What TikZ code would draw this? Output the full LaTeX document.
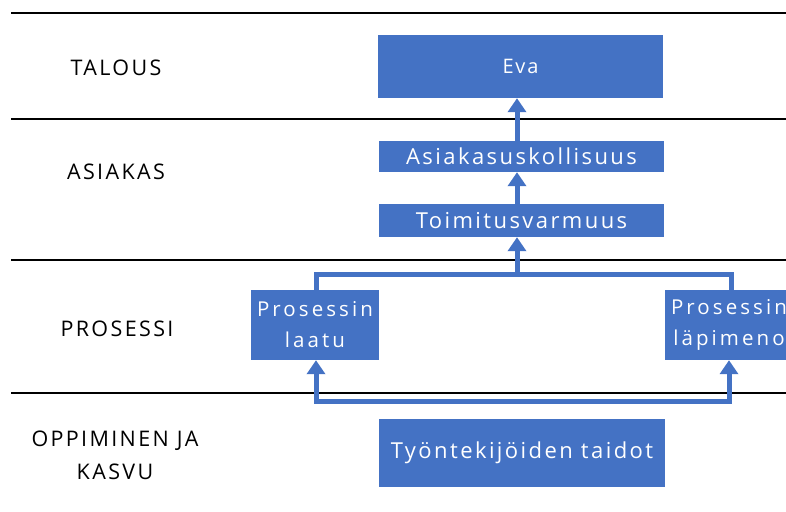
\documentclass[tikz,border=0pt]{standalone}
\usepackage{fontspec}
\setmainfont{Open Sans}[LetterSpace=11]
\usetikzlibrary{arrows.meta}
\definecolor{boxblue}{HTML}{4472C4}
\begin{document}
\begin{tikzpicture}[x=1pt,y=-1pt,
  band/.style={line width=2.4pt, black},
  blk/.style={fill=boxblue, draw=none, text=white, inner sep=0pt, align=center,
    font=\fontsize{22}{31}\selectfont},
  lvl/.style={text=black, inner sep=0pt, align=center,
    font=\fontsize{21.5}{33}\selectfont},
  wire/.style={draw=boxblue, line width=5pt},
  link/.style={wire, -{Triangle[width=18pt,length=14pt]}},
  dlink/.style={wire, {Triangle[width=18pt,length=14pt]}-{Triangle[width=18pt,length=14pt]}}]
\useasboundingbox (0,0) rectangle (786,511);
\clip (0,0) rectangle (786,511);

% band separators
\foreach \yy in {13,119,260,393}
  \draw[band] (11,\yy) -- (786,\yy);

% perspective labels
\node[lvl] (talous) at (116,68) {TALOUS};
\node[lvl] (asiakas) at (116,172) {ASIAKAS};
\node[lvl] (prosessi) at (117,329) {PROSESSI};
\node[lvl] (oppiminen) at (115,455) {OPPIMINEN JA\\KASVU};

% goal boxes
\node[blk, minimum width=285pt, minimum height=63pt,
  font=\fontsize{20}{24}\selectfont\addfontfeature{LetterSpace=9}] (eva) at (520.5,66.5) {Eva};
\node[blk, minimum width=285pt, minimum height=31pt] (asiak) at (521.5,156.5) {Asiakasuskollisuus};
\node[blk, minimum width=285pt, minimum height=33pt] (toim) at (521.5,220.5) {Toimitusvarmuus};
\node[blk, minimum width=128pt, minimum height=70pt,
  font=\fontsize{20.5}{31}\selectfont\addfontfeature{LetterSpace=15}] (laatu) at (315,325) {Prosessin\\laatu};
\node[blk, minimum width=128pt, minimum height=70pt,
  font=\fontsize{20.5}{31}\selectfont\addfontfeature{LetterSpace=15}] (lapi) at (729,325) {Prosessin\\läpimeno};
\node[blk, minimum width=286pt, minimum height=68pt] (tyon) at (522,453) {Työntekijöiden taidot};

% connector guides
\coordinate (ax) at (517,0);
\coordinate (tl) at (316,274);
\coordinate (tc) at (517,274);
\coordinate (tr) at (731,274);
\coordinate (bl) at (316,401);
\coordinate (br) at (729,401);

% causal links
\draw[link] (toim.north -| ax) -- (asiak.south -| ax);
\draw[link] (asiak.north -| ax) -- (eva.south -| ax);
\draw[link] (tc) -- (toim.south -| tc);
\draw[wire] (laatu.north -| tl) -- (tl) -- (tr) -- (lapi.north -| tr);
\draw[dlink] (laatu.south -| bl) -- (bl) -- (br) -- (lapi.south -| br);
\end{tikzpicture}
\end{document}
